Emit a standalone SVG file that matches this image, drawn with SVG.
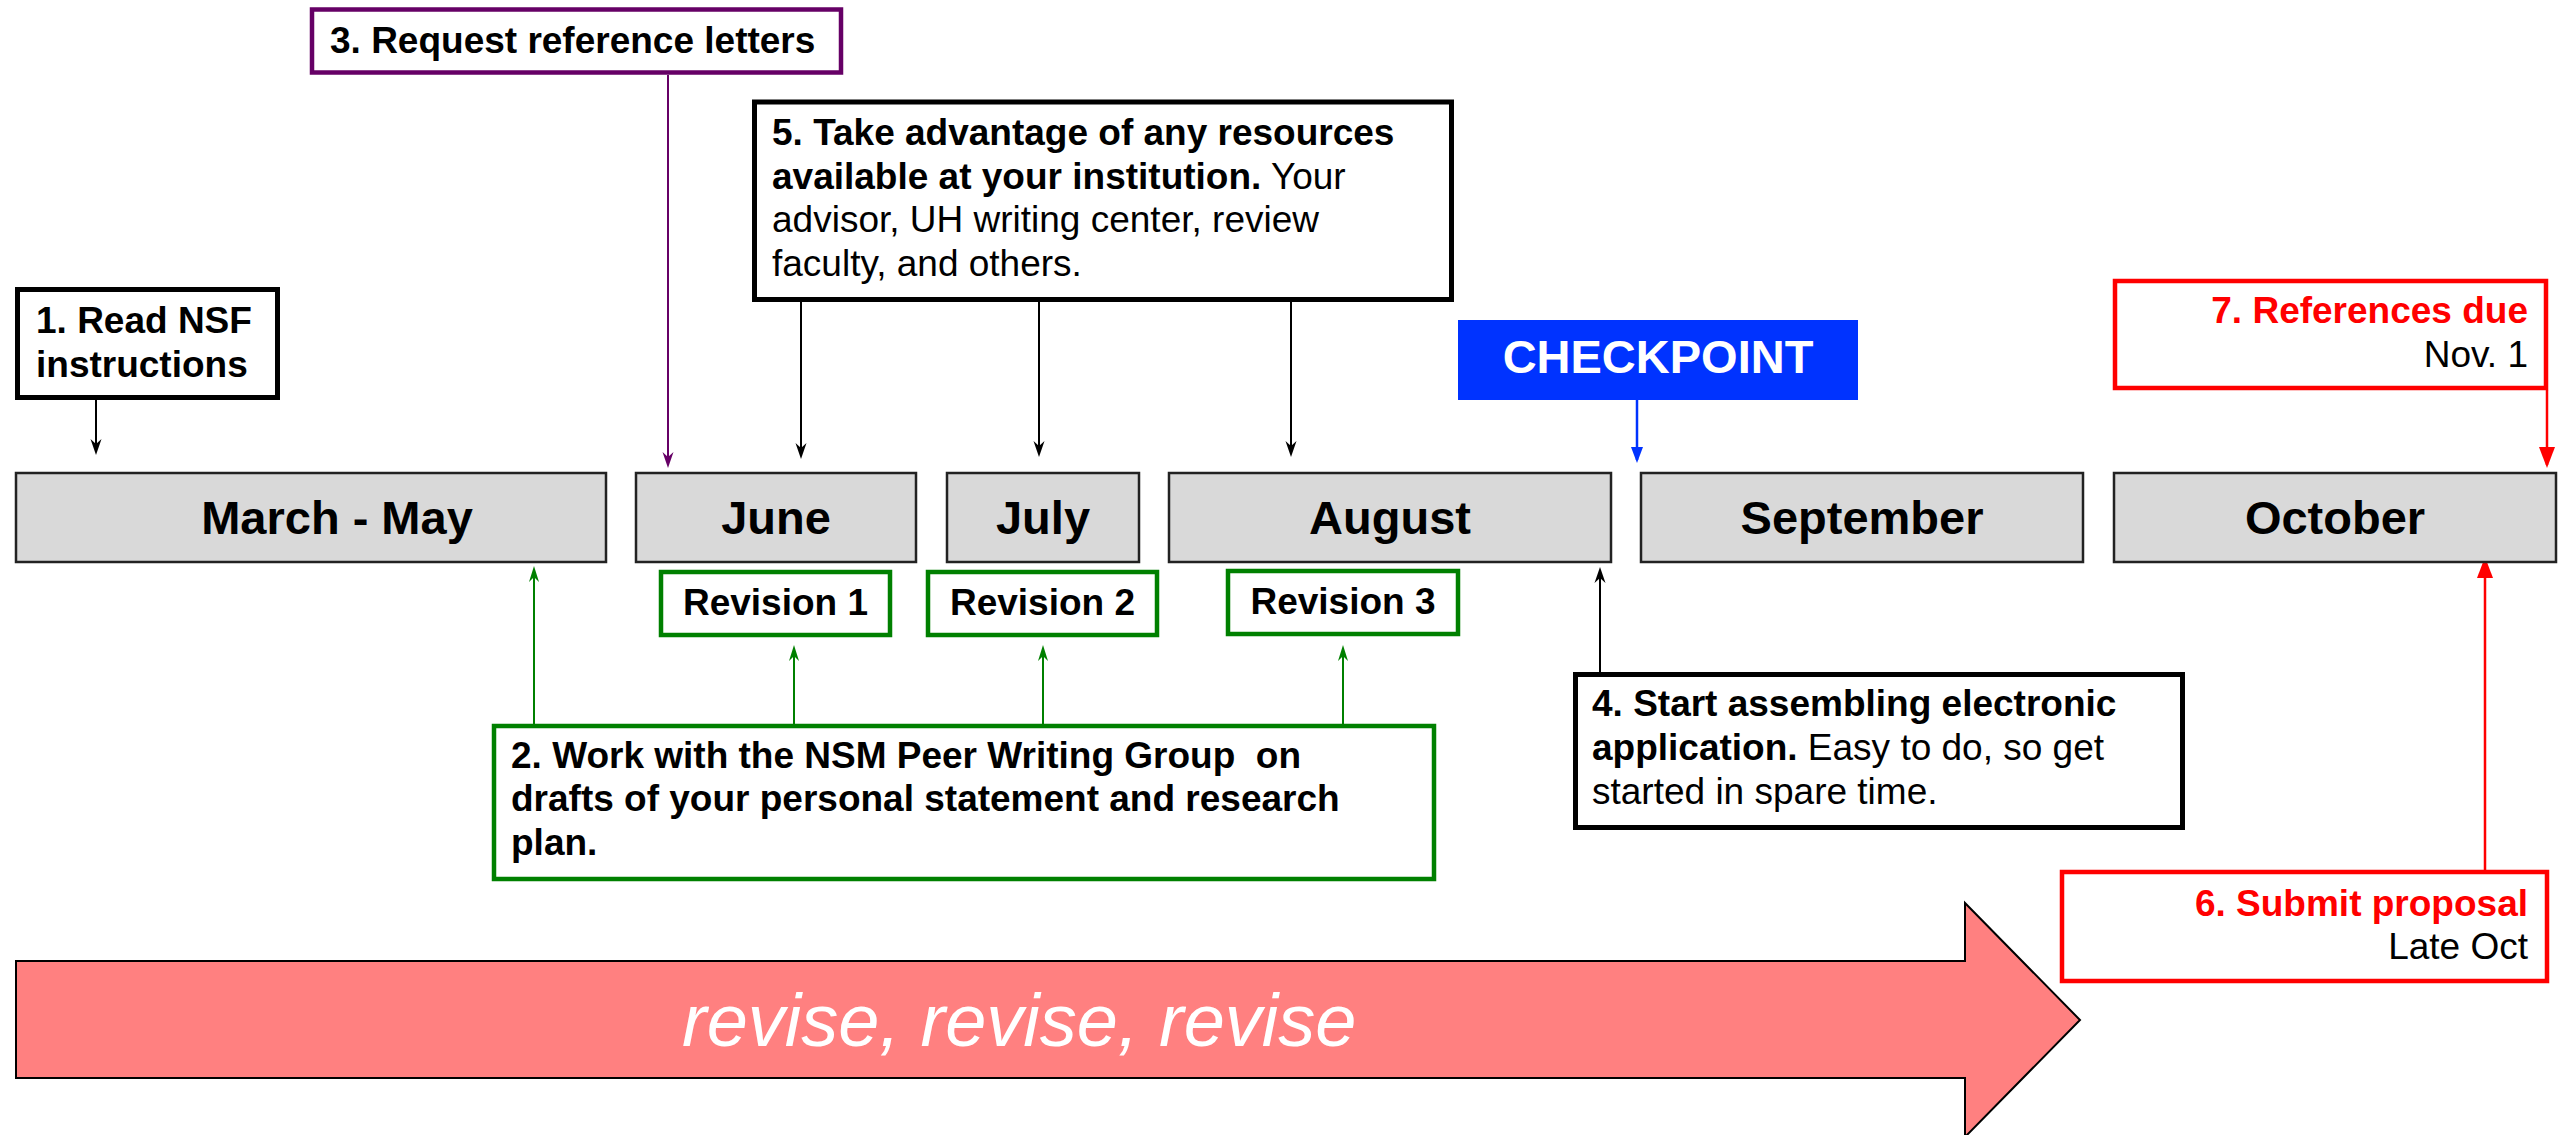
<svg xmlns="http://www.w3.org/2000/svg" width="2560" height="1135" viewBox="0 0 2560 1135">
<style>
text{font-family:"Liberation Sans",Arial,sans-serif;white-space:pre}
.b{font-weight:bold}
.t37{font-size:37px}
.t47{font-size:47px;font-weight:bold}
.month{fill:#d9d9d9;stroke:#222;stroke-width:2.5}
.kbox{fill:#fff;stroke:#000;stroke-width:5}
.gbox{fill:#fff;stroke:#008000;stroke-width:4.5}
.rbox{fill:#fff;stroke:#ff0000;stroke-width:4.5}
.pbox{fill:#fff;stroke:#660066;stroke-width:4.5}
.ck{stroke:#000;stroke-width:2;fill:none}
.cp{stroke:#660066;stroke-width:2;fill:none}
.cg{stroke:#008000;stroke-width:2;fill:none}
.cb{stroke:#0033ff;stroke-width:2.5;fill:none}
.cr{stroke:#ff0000;stroke-width:2.5;fill:none}
</style>
<defs>
<marker id="mk" markerUnits="userSpaceOnUse" markerWidth="20" markerHeight="14" viewBox="-17 -7 20 14" refX="-3" refY="0" orient="auto"><path d="M0,0 L-16,-5.5 L-11,0 L-16,5.5 Z" fill="#000"/></marker>
<marker id="mp" markerUnits="userSpaceOnUse" markerWidth="20" markerHeight="14" viewBox="-17 -7 20 14" refX="-3" refY="0" orient="auto"><path d="M0,0 L-16,-5.5 L-11,0 L-16,5.5 Z" fill="#660066"/></marker>
<marker id="mg" markerUnits="userSpaceOnUse" markerWidth="20" markerHeight="14" viewBox="-17 -7 20 14" refX="-3" refY="0" orient="auto"><path d="M0,0 L-16,-5 L-11,0 L-16,5 Z" fill="#008000"/></marker>
<marker id="mb" markerUnits="userSpaceOnUse" markerWidth="20" markerHeight="14" viewBox="-17 -7 20 14" refX="-3" refY="0" orient="auto"><path d="M0,0 L-16,-6 L-16,6 Z" fill="#0033ff"/></marker>
<marker id="mr" markerUnits="userSpaceOnUse" markerWidth="24" markerHeight="18" viewBox="-22 -9 24 18" refX="-3" refY="0" orient="auto"><path d="M0,0 L-21,-8 L-21,8 Z" fill="#ff0000"/></marker>
</defs>

<g id="revise-arrow">
<polygon points="16,961 1965,961 1965,903 2080,1020 1965,1137 1965,1078 16,1078" fill="#ff8080" stroke="#000" stroke-width="2"/>
<text x="682" y="1046" font-size="74" font-style="italic" fill="#fff">revise, revise, revise</text>
</g>

<g id="connectors">
<line class="ck" x1="96" y1="400" x2="96" y2="452" marker-end="url(#mk)"/>
<line class="cp" x1="668" y1="75" x2="668" y2="465" marker-end="url(#mp)"/>
<line class="ck" x1="801" y1="302" x2="801" y2="456" marker-end="url(#mk)"/>
<line class="ck" x1="1039" y1="302" x2="1039" y2="454" marker-end="url(#mk)"/>
<line class="ck" x1="1291" y1="302" x2="1291" y2="454" marker-end="url(#mk)"/>
<line class="cb" x1="1637" y1="400" x2="1637" y2="460" marker-end="url(#mb)"/>
<line class="cr" x1="2547" y1="390" x2="2547" y2="465" marker-end="url(#mr)"/>
<line class="cg" x1="534" y1="724" x2="534" y2="569" marker-end="url(#mg)"/>
<line class="cg" x1="794" y1="724" x2="794" y2="648" marker-end="url(#mg)"/>
<line class="cg" x1="1043" y1="724" x2="1043" y2="648" marker-end="url(#mg)"/>
<line class="cg" x1="1343" y1="724" x2="1343" y2="648" marker-end="url(#mg)"/>
<line class="ck" x1="1600" y1="672" x2="1600" y2="570" marker-end="url(#mk)"/>
<line class="cr" x1="2485" y1="870" x2="2485" y2="560" marker-end="url(#mr)"/>
</g>

<g id="step1">
<rect class="kbox" x="17.5" y="289.5" width="260" height="108"/>
<text class="t37 b" x="36" y="333">1. Read NSF</text>
<text class="t37 b" x="36" y="377">instructions</text>
</g>

<g id="step3">
<rect class="pbox" x="312" y="9.5" width="529" height="63"/>
<text class="t37 b" x="330" y="53">3. Request reference letters</text>
</g>

<g id="step5">
<rect class="kbox" x="754.5" y="102" width="697" height="197.5"/>
<text class="t37" x="772" y="145"><tspan class="b">5. Take advantage of any resources</tspan></text>
<text class="t37" x="772" y="189"><tspan class="b">available at your institution.</tspan> Your</text>
<text class="t37" x="772" y="232">advisor, UH writing center, review</text>
<text class="t37" x="772" y="276">faculty, and others.</text>
</g>

<g id="checkpoint">
<rect x="1458" y="320" width="400" height="80" fill="#0033ff"/>
<text class="t47" x="1658" y="373" text-anchor="middle" fill="#fff">CHECKPOINT</text>
</g>

<g id="step7">
<rect class="rbox" x="2115" y="281" width="431" height="107"/>
<text class="t37 b" x="2528" y="323" text-anchor="end" fill="#ff0000">7. References due</text>
<text class="t37" x="2528" y="367" text-anchor="end">Nov. 1</text>
</g>

<g id="month-march-may">
<rect class="month" x="16" y="473" width="590" height="89"/>
<text class="t47" x="337" y="534" text-anchor="middle">March - May</text>
</g>
<g id="month-june">
<rect class="month" x="636" y="473" width="280" height="89"/>
<text class="t47" x="776" y="534" text-anchor="middle">June</text>
</g>
<g id="month-july">
<rect class="month" x="947" y="473" width="192" height="89"/>
<text class="t47" x="1043" y="534" text-anchor="middle">July</text>
</g>
<g id="month-august">
<rect class="month" x="1169" y="473" width="442" height="89"/>
<text class="t47" x="1390" y="534" text-anchor="middle">August</text>
</g>
<g id="month-september">
<rect class="month" x="1641" y="473" width="442" height="89"/>
<text class="t47" x="1862" y="534" text-anchor="middle">September</text>
</g>
<g id="month-october">
<rect class="month" x="2114" y="473" width="442" height="89"/>
<text class="t47" x="2335" y="534" text-anchor="middle">October</text>
</g>

<g id="revision1">
<rect class="gbox" x="661" y="572" width="229" height="63"/>
<text class="t37 b" x="775.5" y="615" text-anchor="middle">Revision 1</text>
</g>
<g id="revision2">
<rect class="gbox" x="928" y="572" width="229" height="63"/>
<text class="t37 b" x="1042.5" y="615" text-anchor="middle">Revision 2</text>
</g>
<g id="revision3">
<rect class="gbox" x="1228" y="571" width="230" height="63"/>
<text class="t37 b" x="1343" y="614" text-anchor="middle">Revision 3</text>
</g>

<g id="step2">
<rect class="gbox" x="494" y="726" width="940" height="153"/>
<text class="t37 b" x="511" y="768">2. Work with the NSM Peer Writing Group  on</text>
<text class="t37 b" x="511" y="811">drafts of your personal statement and research</text>
<text class="t37 b" x="511" y="855">plan.</text>
</g>

<g id="step4">
<rect class="kbox" x="1575.5" y="674.5" width="607" height="153"/>
<text class="t37" x="1592" y="716"><tspan class="b">4. Start assembling electronic</tspan></text>
<text class="t37" x="1592" y="760"><tspan class="b">application.</tspan> Easy to do, so get</text>
<text class="t37" x="1592" y="804">started in spare time.</text>
</g>

<g id="step6">
<rect class="rbox" x="2062" y="872" width="485" height="109"/>
<text class="t37 b" x="2528" y="916" text-anchor="end" fill="#ff0000">6. Submit proposal</text>
<text class="t37" x="2528" y="959" text-anchor="end">Late Oct</text>
</g>
</svg>
